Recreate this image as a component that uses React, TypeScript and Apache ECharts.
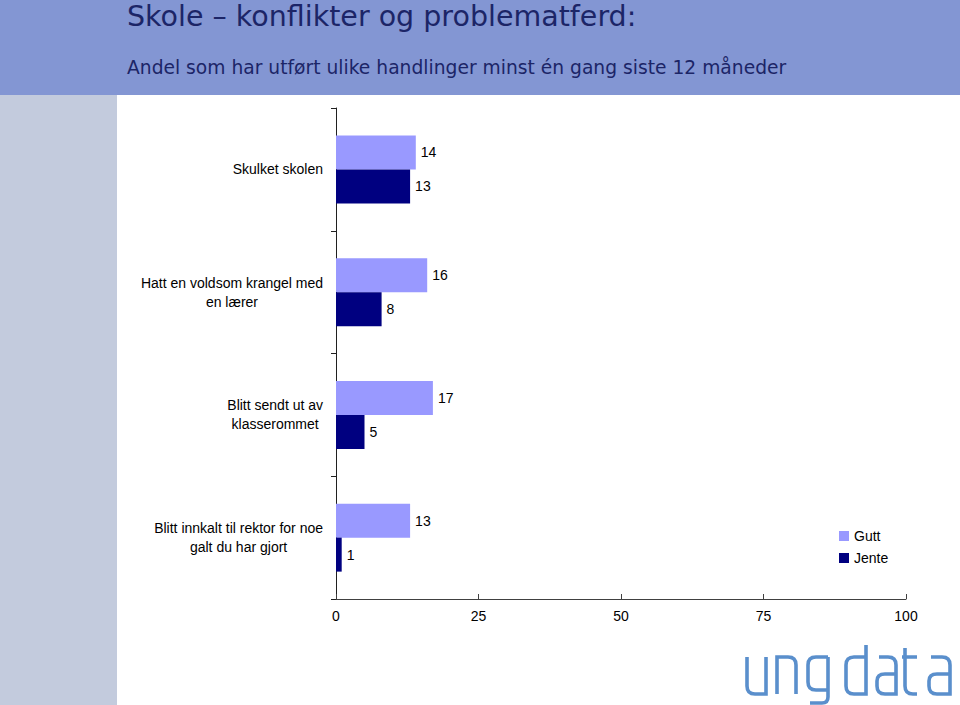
import React, { useEffect, useRef } from "react";
import * as echarts from "echarts";

const categories = [
  "Skulket skolen",
  "Hatt en voldsom krangel med\nen lærer",
  "Blitt sendt ut av\nklasserommet",
  "Blitt innkalt til rektor for noe\ngalt du har gjort",
];
const gutt = [14, 16, 17, 13];
const jente = [13, 8, 5, 1];
const xTicks = [0, 25, 50, 75, 100];

const LOGO_D =
  "M0 0 V29 Q0 37 8 37 H19 V0 " +
  "M30 37 V0 H41 Q49 0 49 8 V37 " +
  "M81 0 H69 Q61 0 61 8 V25 Q61 33 69 33 H81 M81 0 V40 Q81 46 75 46 H63 " +
  "M119 -12 V37 H107 Q99 37 99 29 V8 Q99 0 107 0 H119 " +
  "M132 0 H141 Q149 0 149 8 V37 H138 Q130 37 130 29 V24 Q130 17 138 17 H149 " +
  "M158 -9 V29 Q158 37 166 37 H170 M155 0 H170 " +
  "M184 0 H195 Q203 0 203 8 V37 H190 Q182 37 182 29 V24 Q182 17 190 17 H203";

let registered = false;

export default function App() {
  const ref = useRef<HTMLDivElement>(null);
  useEffect(() => {
    if (!ref.current) return;
    if (!registered) {
      echarts.graphic.registerShape("logo", echarts.graphic.extendPath(LOGO_D, {}));
      registered = true;
    }
    const chart = echarts.init(ref.current, null, { renderer: "svg" });
    const font = "'Liberation Sans', Arial, sans-serif";
    const labelFmt = (v: string) =>
      v
        .split("\n")
        .map((l) => "{c|" + l + "}")
        .join("\n");
    chart.setOption({
      animation: false,
      backgroundColor: "#ffffff",
      textStyle: { fontFamily: font },
      graphic: [
        { type: "rect", z: -10, shape: { x: 0, y: 0, width: 960, height: 95 }, style: { fill: "#8396d3" } },
        { type: "rect", z: -10, shape: { x: 0, y: 95, width: 117, height: 610 }, style: { fill: "#c3cbdd" } },
        {
          type: "text",
          x: 127,
          y: 16,
          style: {
            text: "Skole – konflikter og problematferd:",
            font: "28.5px 'DejaVu Sans', Verdana, sans-serif",
            fill: "#1c2567",
            verticalAlign: "middle",
          },
        },
        {
          type: "text",
          x: 127,
          y: 67,
          style: {
            text: "Andel som har utført ulike handlinger minst én gang siste 12 måneder",
            font: "18.7px 'DejaVu Sans', Verdana, sans-serif",
            fill: "#1c2567",
            verticalAlign: "middle",
          },
        },
        {
          type: "logo",
          x: 747,
          y: 657,
          scaleX: 1,
          scaleY: 1,
          style: { stroke: "#5a8fcc", lineWidth: 3.6, fill: "none" },
        },
      ],
      legend: {
        orient: "vertical",
        left: 834,
        top: 524,
        itemWidth: 10,
        itemHeight: 10,
        itemGap: 8,
        icon: "rect",
        data: ["Gutt", "Jente"],
        textStyle: { fontSize: 14, color: "#000", fontFamily: font },
      },
      grid: { left: 336, right: 54, top: 108, bottom: 106, containLabel: false },
      xAxis: {
        type: "value",
        min: xTicks[0],
        max: xTicks[xTicks.length - 1],
        interval: 25,
        splitLine: { show: false },
        axisLine: { show: true, lineStyle: { color: "#404040", width: 1 } },
        axisTick: { show: true, inside: true, length: 5, lineStyle: { color: "#404040" } },
        axisLabel: { fontSize: 14, color: "#000", margin: 10, fontFamily: font },
      },
      yAxis: {
        type: "category",
        inverse: true,
        data: categories,
        axisLine: { show: true, lineStyle: { color: "#202020", width: 1 } },
        axisTick: { show: true, length: 5, lineStyle: { color: "#202020" } },
        axisLabel: {
          fontSize: 14,
          color: "#000",
          margin: 13,
          lineHeight: 19,
          fontFamily: font,
          formatter: labelFmt,
          rich: { c: { align: "center", fontSize: 14, lineHeight: 19, color: "#000", fontFamily: font } },
        },
      },
      series: [
        {
          name: "Gutt",
          type: "bar",
          data: gutt,
          barWidth: 34,
          barGap: "0%",
          itemStyle: { color: "#9999ff" },
          label: { show: true, position: "right", distance: 5, fontSize: 14, color: "#000", fontFamily: font },
        },
        {
          name: "Jente",
          type: "bar",
          data: jente,
          barWidth: 34,
          barGap: "0%",
          itemStyle: { color: "#000080" },
          label: { show: true, position: "right", distance: 5, fontSize: 14, color: "#000", fontFamily: font },
        },
      ],
    });
    return () => chart.dispose();
  }, []);
  return <div ref={ref} style={{ position: "fixed", left: 0, top: 0, width: 960, height: 705 }} />;
}
